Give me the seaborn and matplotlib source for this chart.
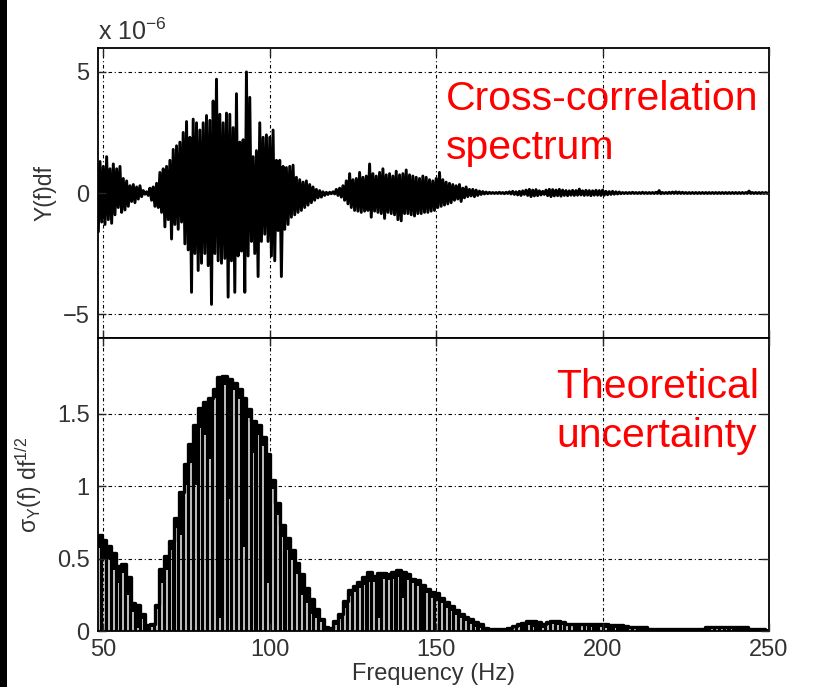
import matplotlib
matplotlib.use("Agg")
import matplotlib.pyplot as plt
import seaborn as sns
import pandas as pd
from matplotlib.patches import Rectangle

# ---------------- data ----------------
freq_top = list(range(48, 251))          # Hz, 1 Hz step
# upper / lower excursions of the cross-correlation spectrum (units of 1e-6)
y_pos = [
    1.2, 1.3, 1.1, 1.5, 1.0, 1.2, 1.0, 1.1, 0.6, 0.5,
    0.3, 0.35, 0.25, 0.3, 0.1, 0.05, 0.2, 0.25, 0.4, 0.85,
    1.0, 1.1, 1.35, 1.8, 1.95, 2.1, 2.5, 2.95, 2.3, 3.05,
    2.9, 2.6, 2.9, 3.2, 3.0, 3.8, 4.7, 3.25, 2.9, 3.3,
    3.25, 2.7, 4.1, 2.1, 2.2, 5.0, 3.95, 1.5, 1.75, 2.9,
    2.3, 2.4, 2.3, 2.6, 1.35, 1.35, 1.1, 1.05, 1.1, 1.15,
    0.65, 0.55, 0.45, 0.5, 0.35, 0.25, 0.15, 0.1, 0.05, 0.03,
    0.03, 0.05, 0.15, 0.2, 0.3, 0.5, 0.8, 0.55, 0.6, 0.85,
    0.65, 0.7, 1.2, 0.8, 0.7, 0.85, 1.0, 0.75, 0.8, 0.7,
    0.9, 0.75, 0.8, 0.95, 0.75, 0.7, 0.65, 0.6, 0.7, 0.65,
    0.55, 0.5, 0.6, 0.85, 0.55, 0.45, 0.4, 0.35, 0.3, 0.35,
    0.2, 0.25, 0.15, 0.15, 0.12, 0.08, 0.06, 0.04, 0.03, 0.02,
    0.02, 0.03, 0.02, 0.03, 0.05, 0.07, 0.05, 0.07, 0.09, 0.12,
    0.15, 0.12, 0.14, 0.09, 0.07, 0.12, 0.15, 0.14, 0.12, 0.15,
    0.12, 0.1, 0.09, 0.11, 0.1, 0.16, 0.09, 0.11, 0.1, 0.09,
    0.11, 0.1, 0.12, 0.07, 0.06, 0.07, 0.05, 0.04, 0.02, 0.02,
    0.02, 0.03, 0.02, 0.02, 0.03, 0.02, 0.02, 0.02, 0.03, 0.1,
    0.02, 0.02, 0.03, 0.04, 0.05, 0.04, 0.03, 0.02, 0.02, 0.02,
    0.02, 0.02, 0.02, 0.02, 0.02, 0.02, 0.02, 0.02, 0.02, 0.02,
    0.02, 0.02, 0.02, 0.02, 0.02, 0.02, 0.08, 0.02, 0.02, 0.02,
    0.02, 0.02, 0.02,
]
y_neg = [
    -1.6, -1.2, -1.3, -1.1, -1.25, -0.9, -0.6, -0.8, -0.7, -0.55,
    -0.35, -0.4, -0.25, -0.15, -0.05, -0.1, -0.3, -0.55, -0.6, -0.8,
    -1.4, -1.1, -1.9, -1.3, -1.5, -1.2, -2.1, -2.35, -4.1, -2.5,
    -3.2, -2.9, -2.5, -3.0, -4.6, -2.5, -2.8, -2.9, -2.7, -4.3,
    -2.8, -4.1, -2.6, -2.4, -4.1, -2.6, -2.0, -2.5, -3.45, -2.0,
    -1.7, -2.0, -2.6, -2.8, -1.55, -3.45, -1.5, -1.3, -1.0, -0.9,
    -0.8, -0.72, -0.6, -0.5, -0.4, -0.3, -0.2, -0.17, -0.1, -0.06,
    -0.03, -0.04, -0.1, -0.17, -0.3, -0.45, -0.6, -0.72, -0.75, -0.8,
    -0.75, -0.72, -1.0, -0.75, -0.8, -0.85, -1.05, -0.8, -0.85, -0.9,
    -1.1, -1.15, -0.85, -0.85, -0.9, -0.95, -0.85, -0.85, -0.8, -0.8,
    -0.75, -0.72, -0.6, -0.55, -0.5, -0.45, -0.4, -0.3, -0.25, -0.35,
    -0.2, -0.15, -0.12, -0.15, -0.1, -0.06, -0.04, -0.03, -0.02, -0.02,
    -0.02, -0.02, -0.03, -0.02, -0.04, -0.06, -0.08, -0.1, -0.06, -0.1,
    -0.15, -0.12, -0.11, -0.08, -0.06, -0.11, -0.15, -0.12, -0.11, -0.13,
    -0.1, -0.11, -0.09, -0.1, -0.09, -0.08, -0.1, -0.09, -0.11, -0.09,
    -0.09, -0.1, -0.09, -0.07, -0.06, -0.05, -0.04, -0.03, -0.02, -0.02,
    -0.02, -0.02, -0.02, -0.02, -0.02, -0.02, -0.02, -0.02, -0.02, -0.03,
    -0.02, -0.02, -0.02, -0.02, -0.02, -0.02, -0.02, -0.02, -0.02, -0.02,
    -0.02, -0.02, -0.02, -0.02, -0.02, -0.02, -0.02, -0.02, -0.02, -0.02,
    -0.02, -0.02, -0.02, -0.02, -0.02, -0.02, -0.02, -0.02, -0.02, -0.02,
    -0.02, -0.02, -0.02,
]

# bottom panel: bars every 1.45 Hz starting at 48.75 Hz
bar_step = 1.45
n_bars = 139
freq_bot = [round(48.75 + bar_step * k, 2) for k in range(n_bars)]
# outer (outline) height of each bar
sigma_env = [
    0.66, 0.63, 0.59, 0.54, 0.45, 0.46, 0.37, 0.19, 0.18, 0.12,
    0.04, 0.05, 0.18, 0.43, 0.52, 0.62, 0.78, 0.96, 1.15, 1.29,
    1.42, 1.54, 1.58, 1.61, 1.67, 1.75, 1.76, 1.74, 1.71, 1.67,
    1.61, 1.53, 1.45, 1.42, 1.34, 1.22, 1.04, 0.88, 0.73, 0.64,
    0.56, 0.47, 0.39, 0.30, 0.22, 0.15, 0.08, 0.03, 0.02, 0.07,
    0.12, 0.21, 0.28, 0.31, 0.34, 0.37, 0.41, 0.38, 0.40, 0.40,
    0.39, 0.41, 0.42, 0.41, 0.39, 0.36, 0.35, 0.32, 0.29, 0.27,
    0.26, 0.23, 0.20, 0.17, 0.145, 0.12, 0.10, 0.08, 0.06, 0.045,
    0.02, 0.012, 0.012, 0.012, 0.012, 0.02, 0.035, 0.05, 0.055, 0.067,
    0.067, 0.065, 0.045, 0.06, 0.067, 0.067, 0.06, 0.05, 0.05, 0.05,
    0.05, 0.05, 0.05, 0.05, 0.05, 0.045, 0.04, 0.04, 0.04, 0.035,
    0.028, 0.028, 0.028, 0.028, 0.012, 0.012, 0.012, 0.012, 0.012, 0.012,
    0.012, 0.012, 0.012, 0.012, 0.012, 0.012, 0.028, 0.028, 0.028, 0.028,
    0.028, 0.028, 0.028, 0.028, 0.028, 0.012, 0.012, 0.012, 0.012,
]
# height of the light inner part of each bar
sigma_inner = [
    0.57, 0.50, 0.50, 0.42, 0.33, 0.40, 0.25, 0.13, 0.02, 0.08,
    0.0, 0.03, 0.15, 0.33, 0.42, 0.56, 0.71, 0.66, 1.01, 1.16,
    1.01, 1.40, 1.35, 1.19, 1.61, 0.09, 1.70, 0.91, 1.66, 1.60,
    0.58, 1.47, 1.23, 1.35, 1.28, 0.33, 0.98, 0.80, 0.65, 0.56,
    0.49, 0.39, 0.25, 0.19, 0.12, 0.09, 0.06, 0.01, 0.0, 0.04,
    0.08, 0.16, 0.24, 0.27, 0.30, 0.32, 0.34, 0.34, 0.09, 0.36,
    0.35, 0.36, 0.37, 0.23, 0.35, 0.33, 0.31, 0.01, 0.26, 0.23,
    0.21, 0.19, 0.16, 0.14, 0.11, 0.09, 0.07, 0.05, 0.03, 0.02,
    0.0, 0.0, 0.0, 0.0, 0.0, 0.0, 0.02, 0.03, 0.0, 0.04,
    0.03, 0.0, 0.02, 0.04, 0.045, 0.04, 0.04, 0.035, 0.035, 0.0,
    0.035, 0.035, 0.03, 0.0, 0.03, 0.02, 0.0, 0.02, 0.0, 0.0,
    0.012, 0.012, 0.0, 0.0, 0.0, 0.0, 0.0, 0.0, 0.0, 0.0,
    0.0, 0.0, 0.0, 0.0, 0.0, 0.0, 0.0, 0.012, 0.012, 0.012,
    0.012, 0.012, 0.0, 0.0, 0.0, 0.0, 0.0, 0.0, 0.0,
]

xticks = [50, 100, 150, 200, 250]
yticks_top = [-5, 0, 5]
yticklabels_top = ["\u22125", "0", "5"]
yticks_bot = [0, 0.5, 1, 1.5]
yticklabels_bot = ["0", "0.5", "1", "1.5"]

# ---------------- tables ----------------
top_x, top_y = [], []
for f, p, n in zip(freq_top, y_pos, y_neg):
    top_x += [f, f + 0.5]
    top_y += [p, n]
top_df = pd.DataFrame({"f": top_x, "Y": top_y})
bot_df = pd.DataFrame({"f": freq_bot, "sigma": sigma_env, "inner": sigma_inner})

# ---------------- style ----------------
sns.set_theme(style="white")
plt.rcParams["font.family"] = ["Liberation Sans", "DejaVu Sans"]
plt.rcParams["mathtext.fontset"] = "custom"
plt.rcParams["mathtext.rm"] = "Liberation Sans"
plt.rcParams["mathtext.it"] = "Liberation Sans"
plt.rcParams["mathtext.bf"] = "Liberation Sans:bold"

W, H = 826, 687
fig = plt.figure(figsize=(W / 100, H / 100), dpi=100)
fig.patch.set_facecolor("white")
L, R = 98, 769
ax1 = fig.add_axes([L / W, 1 - 338.3 / H, (R - L) / W, (338.3 - 47.7) / H])
ax2 = fig.add_axes([L / W, 1 - 631 / H, (R - L) / W, (631 - 338.3) / H])

# top: cross-correlation spectrum
sns.lineplot(data=top_df, x="f", y="Y", color="black", linewidth=2.1,
             errorbar=None, ax=ax1)

# bottom: theoretical uncertainty bars (dark outline + light core)
sns.barplot(data=bot_df, x="f", y="sigma", native_scale=True, orient="x",
            width=1.0, color="black", saturation=1, errorbar=None,
            linewidth=0, ax=ax2)
sns.barplot(data=bot_df, x="f", y="inner", native_scale=True, orient="x",
            width=0.36, color="#b8b8b8", saturation=1, errorbar=None,
            linewidth=0, ax=ax2)
sns.lineplot(data=bot_df, x="f", y="sigma", color="black", linewidth=2.4,
             drawstyle="steps-mid", errorbar=None, ax=ax2)

grid_ls = (0, (3.2, 2.4, 1.0, 2.4))
tick_color = "#333333"
for ax in (ax1, ax2):
    ax.set_xlim(48.4, 250)
    ax.set_xticks(xticks)
    ax.set_axisbelow(False)
    ax.grid(True, color="black", linestyle=grid_ls, linewidth=0.8)
    ax.tick_params(direction="in", length=6, width=1, top=True, right=True,
                   labelsize=17, labelcolor=tick_color, pad=6,
                   bottom=True, left=True)
    for s in ax.spines.values():
        s.set_color("black")
        s.set_linewidth(1.3)
        s.set_visible(True)
    ax.set_facecolor("white")

ax1.set_ylim(-6, 6)
ax1.set_yticks(yticks_top)
ax1.set_yticklabels(yticklabels_top)
ax1.tick_params(labelbottom=False)
ax1.set_xlabel("")
ax1.set_ylabel("Y(f)df", fontsize=16.5, color=tick_color)
ax1.yaxis.set_label_coords(-0.062, 0.5)

ax2.set_ylim(0, 2.02)
ax2.set_yticks(yticks_bot)
ax2.set_yticklabels(yticklabels_bot)
ax2.set_xticks(xticks)
ax2.set_xticklabels([str(v) for v in xticks])
ax2.set_xlabel("Frequency (Hz)", fontsize=17, color=tick_color, labelpad=1)
ax2.set_ylabel(r"$\sigma_Y$(f) df$^{1/2}$", fontsize=16.5, color=tick_color)
ax2.yaxis.set_label_coords(-0.08, 0.5)

# exponent label
fig.text(98 / W, 1 - 40 / H, r"x 10$^{-6}$", fontsize=18, color=tick_color,
         ha="left", va="baseline")

# red annotations
red = "#ff0000"
fig.text(445.7 / W, 1 - 110 / H, "Cross-correlation", color=red,
         fontsize=29.5, ha="left", va="baseline")
fig.text(445.7 / W, 1 - 159 / H, "spectrum", color=red,
         fontsize=29.5, ha="left", va="baseline")
fig.text(556 / W, 1 - 398.3 / H, "Theoretical", color=red,
         fontsize=29.5, ha="left", va="baseline")
fig.text(556 / W, 1 - 447.3 / H, "uncertainty", color=red,
         fontsize=29.5, ha="left", va="baseline")

# dark strip at the left edge of the picture
fig.add_artist(Rectangle((0, 0), 7 / W, 1, transform=fig.transFigure,
                         facecolor="black", edgecolor="none"))

fig.savefig("out.png", dpi=100)
